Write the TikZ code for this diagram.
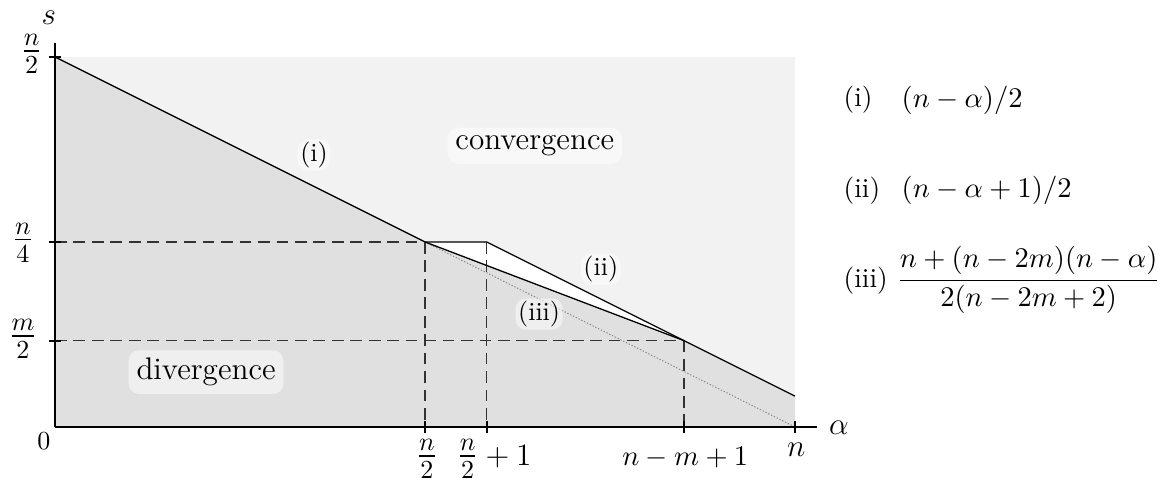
\documentclass[tikz,border=0pt]{standalone}
\usepackage{amsmath}
\begin{document}
\begin{tikzpicture}[x=23.72pt,y=23.72pt,
  axis/.style={line width=0.8pt},
  curve/.style={line width=0.5pt},
  guide/.style={line width=0.5pt,black!80,dash pattern=on 4.5pt off 2.6pt},
  dotline/.style={line width=0.35pt,gray,dash pattern=on 0.5pt off 0.7pt},
  tickmark/.style={line width=0.8pt},
  halo/.style={fill=white,fill opacity=0.5,text opacity=1,rounded corners=4pt,inner sep=3pt},
  lab/.style={inner sep=0.5pt},
  fr/.style={inner sep=0.5pt,font=\Large},
  leg/.style={inner sep=0.5pt,anchor=west,font=\fontsize{10.5}{12.6}\selectfont}]
\useasboundingbox (-0.892,-0.892) rectangle (17.967,6.924);
% key points
\coordinate (O) at (0,0);
\coordinate (A) at (0,6);
\coordinate (B) at (6,3);
\coordinate (C) at (7,3);
\coordinate (D) at (10.2,1.4);
\coordinate (E) at (12,0.5);
\coordinate (F) at (12,0);
\coordinate (G) at (12,6);
\coordinate (Y3) at (0,3);
\coordinate (Y14) at (0,1.4);
\coordinate (X6) at (6,0);
\coordinate (X7) at (7,0);
\coordinate (X10) at (10.2,0);
\coordinate (XE) at (12.36,0);
\coordinate (YE) at (0,6.23);
% regions
\fill[black!5] (O) rectangle (G);
\fill[black!12] (O) -- (A) -- (B) -- (D) -- (E) -- (F) -- cycle;
\fill[white] (B) -- (C) -- (D) -- cycle;
% guides
\draw[guide] (Y3) -- (B);
\draw[guide] (B) -- (X6);
\draw[guide] (C) -- (X7);
\draw[guide] (Y14) -- (D);
\draw[guide] (D) -- (X10);
\draw[dotline] (B) -- (F);
% curves
\draw[curve] (A) -- (B) -- (C) -- (E);
\draw[curve] (B) -- (D);
% axes
\draw[axis] (O) -- (XE);
\draw[axis] (O) -- (YE);
\foreach \y in {6,3,1.4} \draw[tickmark] (-0.1,\y) -- (0.1,\y);
\foreach \x in {6,7,10.2,12} \draw[tickmark] (\x,-0.09) -- (\x,0.09);
% axis labels
\node[lab] (s) at (-0.10,6.64) {\large $s$};
\node[lab] (al) at (12.71,-0.02) {\large $\alpha$};
\node[lab] (zero) at (-0.18,-0.23) {$0$};
\node[fr] (yn2) at (-0.38,6.05) {$\frac{n}{2}$};
\node[fr] (yn4) at (-0.52,2.99) {$\frac{n}{4}$};
\node[fr] (ym2) at (-0.52,1.43) {$\frac{m}{2}$};
\node[fr] (xn2) at (6.03,-0.52) {$\frac{n}{2}$};
\node[lab] (xn21) at (7.12,-0.52) {\large $\mbox{\Large$\frac{n}{2}$}+1$};
\node[lab] (xnm) at (10.22,-0.49) {\fontsize{11.3}{13}\selectfont $n-m+1$};
\node[lab] (xn) at (12.02,-0.37) {\large $n$};
% region labels
\node[halo] (conv) at (7.78,4.56) {\large convergence};
\node[halo] (div) at (2.45,0.89) {\large divergence};
\node[halo,inner sep=1pt] (li) at (4.20,4.41) {(i)};
\node[halo,inner sep=1pt] (lii) at (8.85,2.56) {(ii)};
\node[halo,inner sep=1pt] (liii) at (7.85,1.83) {(iii)};
% legend
\node[leg] (ki) at (12.76,5.30) {(i)};
\node[leg] (fi) at (13.70,5.30) {$(n-\alpha)/2$};
\node[leg] (kii) at (12.76,3.84) {(ii)};
\node[leg] (fii) at (13.70,3.84) {$(n-\alpha+1)/2$};
\node[leg] (kiii) at (12.76,2.38) {(iii)};
\node[leg] (fiii) at (13.62,2.38) {$\dfrac{n+(n-2m)(n-\alpha)}{2(n-2m+2)}$};
\end{tikzpicture}
\end{document}
